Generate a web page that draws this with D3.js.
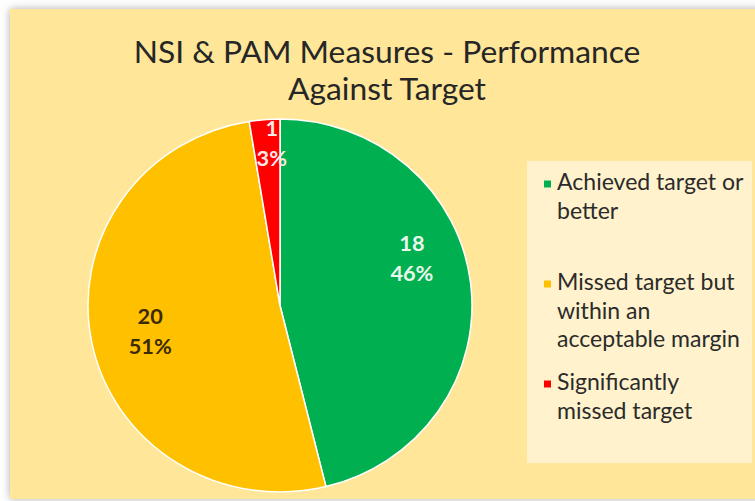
<!DOCTYPE html>
<html>
<head>
<meta charset="utf-8">
<script src="https://cdnjs.cloudflare.com/ajax/libs/d3/7.8.5/d3.min.js"></script>
<style>
body { margin: 0; background: #fff; }
svg { display: block; font-family: Lato, "Open Sans", sans-serif; }
</style>
</head>
<body>
<svg width="755" height="501"></svg>
<script>
// chart data
var titleLines = ["NSI & PAM Measures - Performance", "Against Target"];
var categories = ["Achieved target or better", "Missed target but within an acceptable margin", "Significantly missed target"];
var legendLines = [["Achieved target or", "better"], ["Missed target but", "within an", "acceptable margin"], ["Significantly", "missed target"]];
var values = [18, 20, 1];
var colors = ["#00B050", "#FFC000", "#FF0000"];
var labelColors = ["#EAF7EC", "#3A2A05", "#FFE8E8"];

var svg = d3.select("svg");
var total = d3.sum(values);

// frame with soft shadow
var defs = svg.append("defs");
var filt = defs.append("filter").attr("id", "shadow")
    .attr("x", "-5%").attr("y", "-5%").attr("width", "110%").attr("height", "110%");
filt.append("feDropShadow").attr("dx", 0).attr("dy", 0).attr("stdDeviation", 4)
    .attr("flood-color", "#666").attr("flood-opacity", 0.55);

svg.append("rect")
    .attr("x", 10).attr("y", 9).attr("width", 760).attr("height", 490)
    .attr("fill", "#FFE699").attr("filter", "url(#shadow)");

// scale a text's font-size so it spans the given width
function fitWidth(sel, target) {
    var w = sel.node().getComputedTextLength();
    var s = parseFloat(sel.attr("font-size"));
    var ns = s * target / w;
    sel.attr("font-size", ns);
    return ns;
}

// title
var title = svg.append("g").attr("fill", "#262626").attr("text-anchor", "middle");
var t1 = title.append("text").attr("x", 387).attr("y", 63).attr("font-size", 28).text(titleLines[0]);
var titleSize = fitWidth(t1, 507);
title.append("text").attr("x", 387).attr("y", 100).attr("font-size", titleSize).text(titleLines[1]);

// pie (slightly elliptical like the source)
var cx = 280, cy = 305.5, rx = 192, ry = 186.5;
var pie = d3.pie().sort(null).value(function (d) { return d; });
var arcs = pie(values);
var arc = d3.arc().innerRadius(0).outerRadius(rx);

var g = svg.append("g")
    .attr("transform", "translate(" + cx + "," + cy + ") scale(1," + (ry / rx) + ")");

g.selectAll("path")
    .data(arcs)
    .enter().append("path")
    .attr("d", arc)
    .attr("fill", function (d, i) { return colors[i]; })
    .attr("stroke", "#fff")
    .attr("stroke-width", 1.5)
    .attr("vector-effect", "non-scaling-stroke");

// data labels (radius fraction and angle nudge, like Excel best fit)
var labelPlace = [{ r: 0.733, shift: -13.5 }, { r: 0.69, shift: 0 }, { r: 0.87, shift: 1.8 }];
var labelSize = null;
arcs.forEach(function (d, i) {
    var a = (d.startAngle + d.endAngle) / 2 + labelPlace[i].shift * Math.PI / 180;
    var x = cx + Math.sin(a) * rx * labelPlace[i].r;
    var y = cy - Math.cos(a) * ry * labelPlace[i].r;
    var pct = Math.round(d.data / total * 100) + "%";
    var lg = svg.append("g").attr("text-anchor", "middle").attr("font-weight", "bold")
        .attr("fill", labelColors[i]);
    var a1 = lg.append("text").attr("x", x).attr("y", y - 15)
        .attr("dominant-baseline", "central").attr("font-size", 20).text(d.data);
    var a2 = lg.append("text").attr("x", x).attr("y", y + 15)
        .attr("dominant-baseline", "central").attr("font-size", 20).text(pct);
    if (labelSize === null) {
        labelSize = fitWidth(a2, 43);
    }
    a1.attr("font-size", labelSize);
    a2.attr("font-size", labelSize);
});

// legend
svg.append("rect")
    .attr("x", 527).attr("y", 161).attr("width", 225).attr("height", 302)
    .attr("fill", "#FFF2CC");

var legendY = d3.scalePoint().domain(categories).range([190, 390]);
var lineH = 28.5;

var leg = svg.append("g").selectAll("g")
    .data(categories)
    .enter().append("g")
    .attr("transform", function (d) { return "translate(0," + legendY(d) + ")"; });

leg.append("rect")
    .attr("x", 544).attr("y", -9.5).attr("width", 7).attr("height", 7)
    .attr("fill", function (d, i) { return colors[i]; });

var legText = leg.append("text")
    .attr("x", 557).attr("y", 0)
    .attr("fill", "#2b2b2b")
    .attr("font-size", 17);

legText.each(function (d, i) {
    var t = d3.select(this);
    legendLines[i].forEach(function (line, j) {
        t.append("tspan").attr("x", 557).attr("y", j * lineH).text(line);
    });
});

// size legend font so the longest line matches the source
var probe = svg.append("text").attr("font-size", 17).text(legendLines[1][2]);
var legSize = fitWidth(probe, 183);
probe.remove();
legText.attr("font-size", legSize);
</script>
</body>
</html>
